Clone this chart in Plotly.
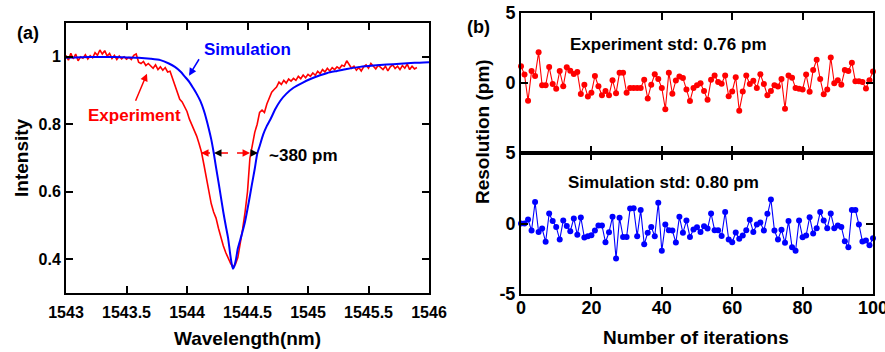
import plotly.graph_objects as go

# ---------------- data: panel (a) ----------------
sim_wl = [1543.0, 1543.2, 1543.4, 1543.5, 1543.6, 1543.7, 1543.78, 1543.85, 1543.9, 1543.95,
          1543.98, 1544.02, 1544.05, 1544.08, 1544.11, 1544.14, 1544.16, 1544.18, 1544.20, 1544.22,
          1544.24, 1544.26, 1544.28, 1544.30, 1544.32, 1544.34, 1544.355, 1544.37, 1544.38, 1544.39,
          1544.405, 1544.42, 1544.45, 1544.48, 1544.51, 1544.535, 1544.56, 1544.58, 1544.60, 1544.63,
          1544.66, 1544.69, 1544.73, 1544.77, 1544.82, 1544.88, 1544.95, 1545.02, 1545.1, 1545.16,
          1545.24, 1545.32, 1545.43, 1545.54, 1545.65, 1545.76, 1545.88, 1546.0]
sim_int = [0.997, 0.999, 0.999, 0.998, 0.997, 0.994, 0.990, 0.980, 0.970, 0.955,
           0.942, 0.925, 0.908, 0.890, 0.869, 0.840, 0.815, 0.787, 0.756, 0.717,
           0.672, 0.629, 0.585, 0.540, 0.500, 0.462, 0.420, 0.385, 0.372, 0.378,
           0.400, 0.432, 0.470, 0.512, 0.568, 0.619, 0.668, 0.712, 0.735, 0.770,
           0.795, 0.815, 0.845, 0.869, 0.890, 0.908, 0.922, 0.934, 0.945, 0.952,
           0.958, 0.964, 0.970, 0.974, 0.977, 0.979, 0.982, 0.984]

exp_wl_start = 1543.0
exp_wl_step = 0.02
exp_int = [1.004, 0.990, 1.010, 0.994, 1.008, 0.988, 1.000, 0.996, 1.006, 0.993,
           1.003, 0.997, 1.012, 1.004, 1.020, 1.008, 1.018, 1.002, 1.010, 0.995,
           1.004, 0.992, 1.002, 0.994, 1.000, 0.993, 0.998, 0.992, 1.004, 1.008,
           0.984, 0.980, 0.986, 0.974, 0.980, 0.972, 0.966, 0.976, 0.962, 0.970,
           0.960, 0.968, 0.955, 0.957, 0.935, 0.913, 0.890, 0.874, 0.866, 0.852,
           0.838, 0.815, 0.800, 0.782, 0.765, 0.742, 0.717, 0.680, 0.640, 0.609,
           0.565, 0.540, 0.522, 0.492, 0.462, 0.440, 0.420, 0.402, 0.388, 0.377,
           0.385, 0.405, 0.442, 0.490, 0.540, 0.600, 0.700, 0.745, 0.776, 0.800,
           0.835, 0.842, 0.835, 0.860, 0.875, 0.895, 0.903, 0.910, 0.925, 0.918,
           0.930, 0.922, 0.934, 0.928, 0.936, 0.930, 0.942, 0.935, 0.946, 0.938,
           0.948, 0.942, 0.952, 0.945, 0.957, 0.950, 0.962, 0.955, 0.966, 0.958,
           0.968, 0.962, 0.970, 0.965, 0.975, 0.972, 0.988, 0.978, 0.966, 0.972,
           0.960, 0.968, 0.958, 0.970, 0.976, 0.966, 0.980, 0.972, 0.964, 0.975,
           0.968, 0.962, 0.972, 0.958, 0.970, 0.976, 0.965, 0.972, 0.962, 0.974,
           0.966, 0.978, 0.962, 0.972, 0.964, 0.968]
exp_wl = [round(exp_wl_start + exp_wl_step * k, 4) for k in range(len(exp_int))]

wl_ticks = [1543, 1543.5, 1544, 1544.5, 1545, 1545.5, 1546]
wl_ticktext = ["1543", "1543.5", "1544", "1544.5", "1545", "1545.5", "1546"]
int_ticks = [0.4, 0.6, 0.8, 1.0]
int_ticktext = ["0.4", "0.6", "0.8", "1"]

# ---------------- data: panel (b) ----------------
exp_res = [1.2, 0.6, -1.27, 0.85, 0.5, 2.19, -0.16, -0.16, 1.15, -0.07,
           -0.41, 0.85, -0.23, 1.13, 0.88, 0.65, 0.78, -0.78, -0.12, -0.97,
           -0.69, 0.5, -0.23, -0.88, -0.58, -0.88, 0.2, -0.74, 0.74, 0.74,
           -0.69, -0.35, -0.35, -0.35, -0.35, 0.23, -1.1, -0.12, 0.62, 0.28,
           -0.35, -1.87, 0.74, -0.76, 0.18, 0.46, 0.35, -0.46, -1.29, -0.35,
           -0.16, -0.02, -0.58, -1.2, 0.23, 0.53, 0.07, -0.05, 0.53, -0.94,
           -0.6, 0.41, -1.98, -0.6, 0.53, -0.07, 0.16, -0.35, 0.62, -0.07,
           -0.88, -0.58, -0.16, -0.25, 0.28, -1.84, 0.53, 0.37, -0.35, -0.41,
           -0.46, 0.6, -0.62, 0.92, 1.66, 0.28, -0.81, -0.46, 1.82, -0.02,
           0.2, -0.12, 0.92, 0.85, 1.45, 0.12, 0.12, 0.07, -0.39, 0.2,
           0.83]
sim_res = [0.0, 0.0, 0.28, -0.5, 1.52, -0.6, -0.36, -1.3, 0.71, 0.17,
           -0.24, -1.14, 0.21, -0.17, -0.55, 0.36, -0.8, 0.43, -1.0, -0.9,
           -0.83, -0.5, -0.14, -0.14, -1.33, -0.62, 0.47, -2.49, 0.4, -0.95,
           -0.95, 1.07, 1.09, -0.9, 0.95, -1.47, -0.66, -0.24, -0.9, 1.47,
           -1.94, -0.07, -0.47, -0.5, -1.35, 0.47, -0.66, 0.21, -0.95, -0.43,
           -0.26, -0.6, -0.19, -0.36, 0.71, -0.47, -0.47, -0.88, 0.81, -1.14,
           -1.33, -0.64, -1.09, -0.85, -0.47, 0.26, -0.6, -0.07, 0.07, -0.5,
           0.69, 1.71, -0.5, -1.14, -0.45, -1.37, 0.17, -1.68, -1.94, 0.21,
           -0.97, -0.85, 0.45, -0.71, -0.33, 0.81, 0.21, -0.33, 0.71, -0.33,
           -0.14, -0.24, -1.26, -1.68, 0.95, 0.95, -0.07, -1.28, -1.21, -1.54,
           -1.04]
exp_iter = list(range(len(exp_res)))
sim_iter = list(range(len(sim_res)))

iter_ticks = [0, 20, 40, 60, 80, 100]
res_ticks = [-5, 0, 5]

RED = "#FF0000"
BLUE = "#0000FF"
FONT = "Liberation Sans"

fig = go.Figure()

fig.add_trace(go.Scatter(x=exp_wl, y=exp_int, mode="lines", line=dict(color=RED, width=1.6),
                         xaxis="x", yaxis="y", showlegend=False))
fig.add_trace(go.Scatter(x=sim_wl, y=sim_int, mode="lines", line=dict(color=BLUE, width=2, shape="spline", smoothing=0.6),
                         xaxis="x", yaxis="y", showlegend=False))
fig.add_trace(go.Scatter(x=exp_iter, y=exp_res, mode="lines+markers", line=dict(color=RED, width=1.1),
                         marker=dict(color=RED, size=6), cliponaxis=False,
                         xaxis="x2", yaxis="y2", showlegend=False))
fig.add_trace(go.Scatter(x=sim_iter, y=sim_res, mode="lines+markers", line=dict(color=BLUE, width=1.1),
                         marker=dict(color=BLUE, size=6), cliponaxis=False,
                         xaxis="x3", yaxis="y3", showlegend=False))

axis_common = dict(showline=True, linecolor="black", linewidth=2, mirror="ticks", ticks="inside",
                   ticklen=7, tickwidth=2, tickcolor="black", showgrid=False, zeroline=False,
                   automargin=False, ticklabeloverflow="allow",
                   tickfont=dict(family=FONT, size=16, color="black", weight="bold"))

xl = (66 / 885, 429 / 885)
yl = (1 - 293 / 352, 1 - 23 / 352)
xr = (521 / 885, 873 / 885)
yr_top = (1 - 153 / 352, 1 - 13 / 352)
yr_bot = (1 - 294 / 352, 1 - 153 / 352)

right_font = dict(family=FONT, size=18, color="black", weight="bold")

fig.update_layout(
    width=885, height=352, margin=dict(l=0, r=0, t=0, b=0, autoexpand=False),
    paper_bgcolor="white", plot_bgcolor="white",
    xaxis=dict(axis_common, domain=xl, range=[1543, 1546], tickvals=wl_ticks, ticktext=wl_ticktext, anchor="y",
               ticklabelstandoff=4),
    yaxis=dict(axis_common, domain=yl, range=[0.3, 1.1], tickvals=int_ticks, ticktext=int_ticktext, anchor="x"),
    xaxis2=dict(axis_common, domain=xr, range=[0, 100], tickvals=iter_ticks, showticklabels=False, anchor="y2"),
    yaxis2=dict(axis_common, domain=yr_top, range=[-5, 5], tickvals=res_ticks, ticktext=["", "0", "5"], anchor="x2",
                tickfont=right_font),
    xaxis3=dict(axis_common, domain=xr, range=[0, 100], tickvals=iter_ticks, anchor="y3", tickfont=right_font,
                ticklabelstandoff=-4),
    yaxis3=dict(axis_common, domain=yr_bot, range=[-5, 5], tickvals=res_ticks, ticktext=["-5", "0", "5"], anchor="x3",
                tickfont=right_font),
)

ann_font = dict(family=FONT, size=17, weight="bold")
title_font = dict(family=FONT, size=19, color="black", weight="bold")
C = dict(xanchor="center", yanchor="middle", showarrow=False)

annotations = [
    # panel labels
    dict(C, text="(a)", x=28 / 885, y=1 - 33 / 352, xref="paper", yref="paper",
         font=dict(family=FONT, size=18, color="black", weight="bold")),
    dict(C, text="(b)", x=478 / 885, y=1 - 27 / 352, xref="paper", yref="paper",
         font=dict(family=FONT, size=18, color="black", weight="bold")),
    # axis titles
    dict(C, text="Intensity", x=21 / 885, y=1 - 158 / 352, xref="paper", yref="paper",
         textangle=-90, font=title_font),
    dict(C, text="Wavelength(nm)", x=247 / 885, y=1 - 338 / 352, xref="paper", yref="paper",
         font=title_font),
    dict(C, text="Number of iterations", x=696 / 885, y=1 - 337 / 352, xref="paper", yref="paper",
         font=title_font),
    dict(C, text="Resolution (pm)", x=482 / 885, y=1 - 132 / 352, xref="paper", yref="paper",
         textangle=-90, font=title_font),
    # panel (a) labels
    dict(C, text="Simulation", x=1544.504, y=1.0206, xref="x", yref="y",
         font=dict(ann_font, color=BLUE)),
    dict(C, text="Experiment", x=1543.562, y=0.826, xref="x", yref="y",
         font=dict(ann_font, color=RED)),
    dict(text="~380 pm", x=1544.661, y=0.706, xref="x", yref="y", showarrow=False, xanchor="left", yanchor="middle",
         font=dict(ann_font, color="black")),
    # pointer arrows
    dict(x=1544.017, y=0.944, ax=1544.107, ay=0.997, xref="x", yref="y", axref="x", ayref="y",
         showarrow=True, arrowhead=2, arrowsize=1, arrowwidth=1.5, arrowcolor=BLUE, text=""),
    dict(x=1543.669, y=0.95, ax=1543.570, ay=0.865, xref="x", yref="y", axref="x", ayref="y",
         showarrow=True, arrowhead=2, arrowsize=1, arrowwidth=1.5, arrowcolor=RED, text=""),
    # FWHM arrowheads (red, outer)
    dict(x=1544.116, y=0.715, ax=1544.17, ay=0.715, xref="x", yref="y", axref="x", ayref="y",
         showarrow=True, arrowhead=2, arrowsize=1, arrowwidth=1.5, arrowcolor=RED, text=""),
    dict(x=1544.521, y=0.715, ax=1544.47, ay=0.715, xref="x", yref="y", axref="x", ayref="y",
         showarrow=True, arrowhead=2, arrowsize=1, arrowwidth=1.5, arrowcolor=RED, text=""),
    # FWHM arrowheads (black, simulation)
    dict(x=1544.223, y=0.715, ax=1544.26, ay=0.715, xref="x", yref="y", axref="x", ayref="y",
         showarrow=True, arrowhead=2, arrowsize=1, arrowwidth=1.5, arrowcolor="black", text=""),
    dict(x=1544.587, y=0.715, ax=1544.55, ay=0.715, xref="x", yref="y", axref="x", ayref="y",
         showarrow=True, arrowhead=2, arrowsize=1, arrowwidth=1.5, arrowcolor="black", text=""),
    # panel (b) labels
    dict(C, text="Experiment std: 0.76 pm", x=42, y=2.78, xref="x2", yref="y2",
         font=dict(ann_font, color="black")),
    dict(C, text="Simulation std: 0.80 pm", x=40.6, y=2.9, xref="x3", yref="y3",
         font=dict(ann_font, color="black")),
]
fig.update_layout(annotations=annotations)

fig.add_shape(type="line", x0=1544.116, x1=1544.521, y0=0.715, y1=0.715, xref="x", yref="y",
              line=dict(color=RED, width=1.5, dash="dash"))

fig.write_html("out.html")
